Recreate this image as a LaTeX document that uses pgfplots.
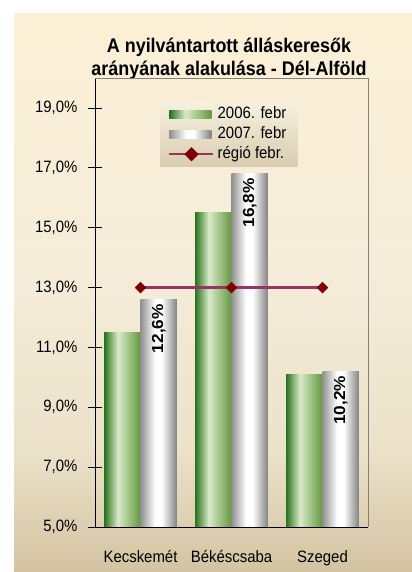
\documentclass[border=0pt]{standalone}
\usepackage{fontspec}
\setmainfont{Liberation Sans}
\usepackage{graphicx}
\usepackage{pgfplots}
\pgfplotsset{compat=1.18}
\definecolor{bgtop}{RGB}{252,239,214}
\definecolor{bgmid}{RGB}{245,237,218}
\definecolor{bgmid2}{RGB}{236,226,202}
\definecolor{bgbot}{RGB}{211,195,161}
\definecolor{gA}{RGB}{40,115,28}
\definecolor{gB}{RGB}{218,234,200}
\definecolor{gC}{RGB}{98,152,62}
\definecolor{sA}{RGB}{145,145,145}
\definecolor{sC}{RGB}{130,130,130}
\definecolor{plum}{RGB}{153,51,102}
\definecolor{mrk}{RGB}{128,0,0}
\definecolor{lgtop}{RGB}{245,240,224}
\definecolor{lgbot}{RGB}{218,205,175}
\pgfdeclarehorizontalshading{greenbar}{100bp}{color(0bp)=(gA); color(25bp)=(gA); color(44bp)=(gB); color(75bp)=(gC); color(100bp)=(gC)}
\pgfdeclarehorizontalshading{graybar}{100bp}{color(0bp)=(sA); color(25bp)=(sA); color(45bp)=(white); color(54bp)=(white); color(75bp)=(sC); color(100bp)=(sC)}
\pgfdeclareverticalshading{bgshade}{100bp}{color(0bp)=(bgbot); color(25bp)=(bgbot); color(36bp)=(bgmid2); color(52bp)=(bgmid); color(75bp)=(bgtop); color(100bp)=(bgtop)}
\newcommand{\st}[1]{\scalebox{1}[1.1]{#1}}
\pgfplotsset{
  greenleg/.style={legend image code/.code={\shade[shading=greenbar] (0bp,-4bp) rectangle (42bp,4bp);}},
  grayleg/.style={legend image code/.code={\shade[shading=graybar] (0bp,-4bp) rectangle (42bp,4bp);}},
  lineleg/.style={legend image code/.code={\draw[plum, line width=2.5bp] (0bp,0bp) -- (44bp,0bp);
     \fill[mrk, rotate around={45:(22bp,0bp)}] (18.2bp,-3.8bp) rectangle (25.8bp,3.8bp);}},
  gbar/.style={ybar, bar width=0.4, bar shift=-0.2, draw=none, shade, shading=greenbar, greenleg},
  sbar/.style={ybar, bar width=0.4, bar shift=0.2, draw=none, shade, shading=graybar, grayleg,
    point meta=explicit symbolic,
    nodes near coords={\scalebox{1.08}[1]{\pgfplotspointmeta}},
    nodes near coords style={shift={(axis direction cs:0.2,0)}, rotate=90, anchor=east, inner sep=4.5bp,
      font=\bfseries\fontsize{16}{18}\selectfont, black}},
}
\begin{document}
\begin{tikzpicture}
\useasboundingbox (0,0) rectangle (412bp,572bp);
\shade[shading=bgshade] (14bp,0bp) rectangle (412bp,558bp);
\node[font=\bfseries\fontsize{18}{20}\selectfont, anchor=base] at (229bp,519bp) {\st{A nyilvántartott álláskeresők}};
\node[font=\bfseries\fontsize{18}{20}\selectfont, anchor=base] at (229bp,496bp) {\st{arányának alakulása - Dél-Alföld}};
\begin{axis}[
  at={(95bp,45bp)}, anchor=south west,
  scale only axis, width=273bp, height=449bp,
  xmin=-0.5, xmax=2.5, ymin=5, ymax=20,
  axis x line*=bottom, axis y line*=left,
  axis line style={black, line width=0.8bp},
  ytick={5,7,...,19},
  ytick pos=left,
  tick align=center,
  major tick length=14bp,
  tick style={black, line width=0.8bp},
  xtick={0,1,2},
  xticklabels={\st{Kecskemét},\st{Békéscsaba},\st{Szeged}},
  x tick style={draw=none},
  minor xtick={-0.5,0.5,1.5,2.5},
  minor tick length=14bp,
  minor x tick style={black, line width=0.8bp},
  /pgf/number format/.cd, fixed, fixed zerofill, precision=1, use comma, assume math mode=true,
  /pgfplots/.cd,
  yticklabel={\st{\pgfmathprintnumber{\tick}\%}},
  ticklabel style={font=\fontsize{15}{17}\selectfont},
  yticklabel style={xshift=-7bp},
  xticklabel style={yshift=-13bp},
  legend cell align=left,
  legend style={at={(0.238,0.9465)}, anchor=north west, draw=none,
    top color=lgtop, bottom color=lgbot,
    font=\fontsize{15}{17}\selectfont,
    inner xsep=8bp, inner ysep=3bp, row sep=2bp,
    nodes={inner xsep=3bp, inner ysep=2bp, text height=11bp, text depth=3bp}},
  clip=false,
]
% 2006. febr
\addplot[gbar] coordinates {(0,11.5)};
\addlegendentry{\st{2006. febr}}
% 2007. febr
\addplot[sbar] coordinates {(0,12.6) [12,6\%]};
\addlegendentry{\st{2007. febr}}
\addplot[gbar, forget plot] coordinates {(1,15.5)};
\addplot[gbar, forget plot] coordinates {(2,10.1)};
\addplot[sbar, forget plot] coordinates {(1,16.8) [16,8\%]};
\addplot[sbar, forget plot] coordinates {(2,10.2) [10,2\%]};
% régió febr.
\addplot[plum, line width=2.5bp, mark=square*, mark size=3.8bp,
  mark options={rotate=45, fill=mrk, draw=mrk, line width=0.5bp}, lineleg]
  coordinates {(0,13) (1,13) (2,13)};
\addlegendentry{\st{régió febr.}}
\draw[gray, line width=0.8bp] (rel axis cs:0,1) -- (rel axis cs:1,1) -- (rel axis cs:1,0);
\end{axis}
\end{tikzpicture}
\end{document}
